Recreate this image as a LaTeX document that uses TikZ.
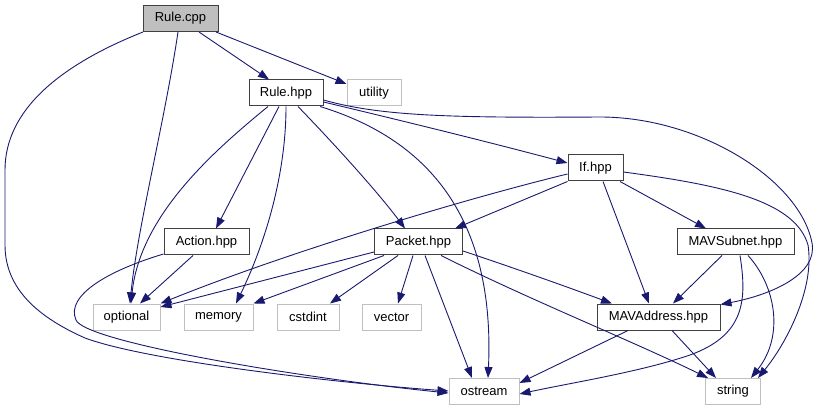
\documentclass[tikz,border=0pt]{standalone}
\usepackage{fontspec}
\setmainfont{Liberation Sans}
\usetikzlibrary{arrows.meta}
\definecolor{edgeblue}{HTML}{191970}
\definecolor{boxgray}{HTML}{BFBFBF}
\definecolor{boxdark}{HTML}{404040}
\begin{document}
\begin{tikzpicture}[x=1pt,y=-1pt,
  filebox/.style={draw=boxdark, line width=1pt, fill=white, minimum height=26pt, inner sep=0pt, font=\fontsize{13}{15}\selectfont},
  extbox/.style={filebox, draw=boxgray},
  rootbox/.style={filebox, fill=boxgray},
  dep/.style={draw=edgeblue, line width=0.9pt, -{Triangle[length=11pt,width=8pt]}, fill=none}
]
\useasboundingbox (0,0) rectangle (818,411);
% nodes
\node[rootbox, minimum width=75pt] (rulecpp) at (180.5,18.5) {Rule.cpp};
\node[filebox, minimum width=74pt] (rulehpp) at (286,93) {Rule.hpp};
\node[extbox, minimum width=54pt] (utility) at (374,93) {utility};
\node[filebox, minimum width=55pt] (ifhpp) at (595.5,168) {If.hpp};
\node[filebox, minimum width=85pt] (action) at (206.5,242) {Action.hpp};
\node[filebox, minimum width=88pt] (packet) at (418.5,242) {Packet.hpp};
\node[filebox, minimum width=117pt] (mavsubnet) at (735.5,242) {MAVSubnet.hpp};
\node[extbox, minimum width=67pt] (optional) at (126.5,317) {optional};
\node[extbox, minimum width=69pt] (memory) at (218.5,317) {memory};
\node[extbox, minimum width=62pt] (cstdint) at (308,317) {cstdint};
\node[extbox, minimum width=59pt] (vector) at (391.5,317) {vector};
\node[filebox, minimum width=123pt] (mavaddr) at (658.5,317) {MAVAddress.hpp};
\node[extbox, minimum width=70pt] (ostream) at (484,391.5) {ostream};
\node[extbox, minimum width=55pt] (string) at (733,391.5) {string};

% Rule.cpp
\draw[dep] ([xshift=18.5pt]rulecpp.south) -- ([xshift=-17pt]rulehpp.north);
\draw[dep] ([xshift=35.5pt]rulecpp.south) -- ([yshift=9pt]utility.west);
\draw[dep] ([xshift=-2.5pt]rulecpp.south) .. controls (165,120) and (137,230) .. ([xshift=3.5pt]optional.north);
\draw[dep] ([xshift=0.5pt]rulecpp.south west) .. controls (60,65) and (5,110) .. (5,170) -- (5,245)
  .. controls (5,290) and (40,318) .. (85,338) .. controls (150,362) and (350,384) .. ([yshift=0.5pt]ostream.west);

% Rule.hpp
\draw[dep] ([xshift=-18pt]rulehpp.south) .. controls (215,150) and (140,215) .. ([xshift=4.5pt]optional.north);
\draw[dep] ([xshift=-7pt]rulehpp.south) -- ([xshift=9.5pt]action.north);
\draw[dep] (rulehpp.south) .. controls (286,180) and (262,250) .. ([xshift=17.5pt]memory.north);
\draw[dep] ([xshift=12pt]rulehpp.south) .. controls (340,150) and (380,195) .. ([xshift=-13.5pt]packet.north);
\draw[dep] ([xshift=34pt]rulehpp.south) .. controls (430,140) and (495,220) .. ([xshift=4pt]ostream.north);
\draw[dep] ([yshift=-9pt]rulehpp.east) .. controls (420,125) and (500,145) .. ([yshift=5pt]ifhpp.west);
\draw[dep] ([yshift=-7pt]rulehpp.east) .. controls (380,116) and (450,118) .. (600,117)
  .. controls (700,117) and (800,180) .. (812,243) .. controls (818,275) and (770,295) .. ([yshift=-1pt]mavaddr.north east);

% If.hpp
\draw[dep] ([yshift=-6pt]ifhpp.west) .. controls (460,200) and (280,255) .. (optional.north east);
\draw[dep] (ifhpp.south west) -- ([xshift=36.5pt]packet.north);
\draw[dep] ([xshift=7.5pt]ifhpp.south) -- ([xshift=-9.5pt]mavaddr.north);
\draw[dep] ([xshift=24.5pt]ifhpp.south) -- ([xshift=-29.5pt]mavsubnet.north);
\draw[dep] ([yshift=-4pt]ifhpp.east) .. controls (720,185) and (795,200) .. (808,245)
  .. controls (815,290) and (785,345) .. ([xshift=25pt]string.north);

% Action.hpp
\draw[dep] ([xshift=-13.5pt]action.south) -- ([xshift=13.5pt]optional.north);
\draw[dep] ([yshift=1.5pt]action.south west) .. controls (110,270) and (65,295) .. (76,320)
  .. controls (85,342) and (300,378) .. ([yshift=-1.5pt]ostream.west);

% Packet.hpp
\draw[dep] ([yshift=-10pt]packet.west) -- ([yshift=10pt]optional.east);
\draw[dep] ([xshift=-34.5pt]packet.south) -- (memory.north east);
\draw[dep] ([xshift=-20.5pt]packet.south) -- ([xshift=22pt]cstdint.north);
\draw[dep] ([xshift=-5.5pt]packet.south) -- ([xshift=6.5pt]vector.north);
\draw[dep] ([xshift=6.5pt]packet.south) -- ([xshift=-12pt]ostream.north);
\draw[dep] ([yshift=-9pt]packet.east) .. controls (520,270) and (570,288) .. ([xshift=-46.5pt]mavaddr.north);
\draw[dep] ([xshift=22.5pt]packet.south) .. controls (530,300) and (630,340) .. ([xshift=3pt]string.north west);

% MAVSubnet.hpp
\draw[dep] ([xshift=-13.5pt]mavsubnet.south) -- ([xshift=14.5pt]mavaddr.north);
\draw[dep] ([xshift=4.5pt]mavsubnet.south) .. controls (747,300) and (745,335) .. (690,355)
  .. controls (640,372) and (570,383) .. ([yshift=-2.5pt]ostream.east);
\draw[dep] ([xshift=12.5pt]mavsubnet.south) .. controls (775,285) and (785,335) .. ([xshift=18pt]string.north);

% MAVAddress.hpp
\draw[dep] ([xshift=-30.5pt]mavaddr.south) -- ([yshift=8.5pt]ostream.east);
\draw[dep] ([xshift=13.5pt]mavaddr.south) -- ([xshift=-17pt]string.north);
\end{tikzpicture}
\end{document}
